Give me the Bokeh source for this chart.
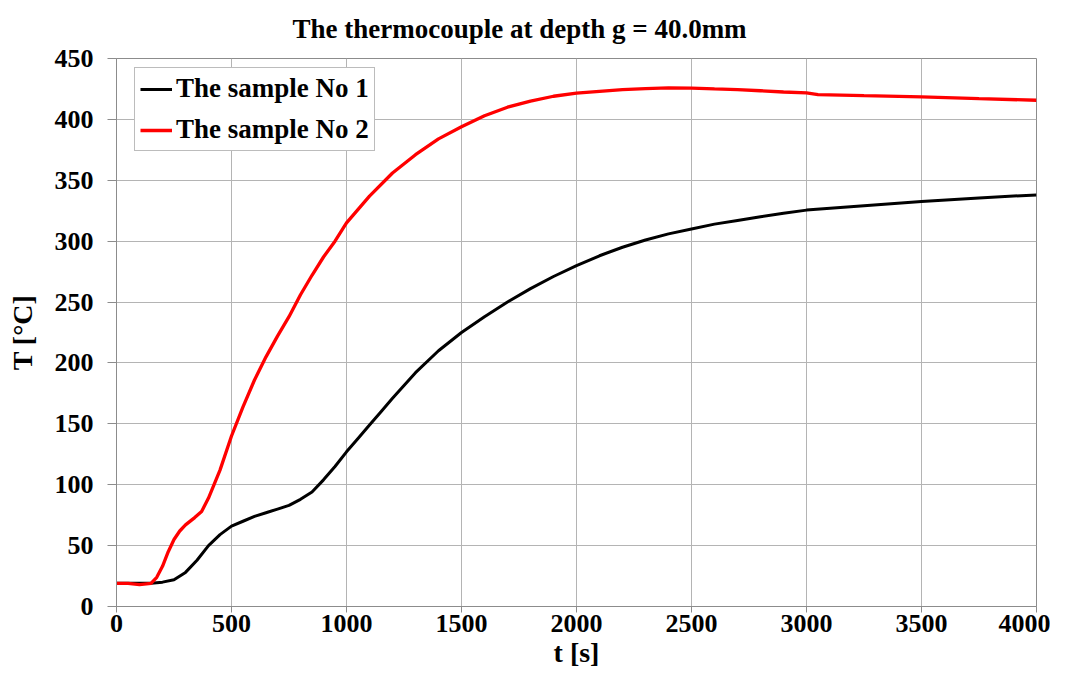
from bokeh.plotting import figure
from bokeh.models import Legend, LegendItem, Title, FixedTicker
from bokeh.embed import file_html
from bokeh.resources import INLINE

# ---- data ----
t_sample1 = [0, 100, 150, 200, 250, 300, 350, 400, 450, 500, 550, 600, 650, 700,
             750, 800, 850, 900, 950, 1000, 1050, 1100, 1150, 1200, 1300, 1400,
             1500, 1600, 1700, 1800, 1900, 2000, 2100, 2200, 2300, 2400, 2500,
             2600, 2700, 2800, 2900, 3000, 3250, 3500, 3750, 4000]
T_sample1 = [19, 19, 19, 20, 22, 28, 38, 50, 59, 66, 70, 74, 77, 80,
             83, 88, 94, 104, 115, 127, 138, 149, 160, 171, 192, 210,
             225, 238, 250, 261, 271, 280, 288, 295, 301, 306, 310,
             314, 317, 320, 323, 325.5, 329, 332.5, 335.5, 338]

t_sample2 = [0, 50, 100, 150, 175, 200, 225, 250, 275, 300, 340, 370, 400, 450,
             500, 550, 600, 650, 700, 750, 800, 850, 900, 950, 1000, 1100, 1200,
             1300, 1400, 1500, 1600, 1700, 1800, 1900, 2000, 2100, 2200, 2300,
             2400, 2500, 2600, 2700, 2800, 2900, 3000, 3050, 3250, 3500, 3750, 4000]
T_sample2 = [19, 19, 18, 19, 24, 33, 45, 55, 62, 67, 73, 78, 89, 112,
             140, 164, 186, 205, 222, 238, 256, 272, 287, 300, 315, 337, 356,
             371, 384, 394, 403, 410, 415, 419, 421.5, 423, 424.5, 425.3,
             425.8, 425.6, 425, 424.5, 423.5, 422.5, 421.7, 420.4, 419.5, 418.5, 417, 415.7]

series_names = ["The sample No 1", "The sample No 2"]
x_ticks = [0, 500, 1000, 1500, 2000, 2500, 3000, 3500, 4000]
y_ticks = [0, 50, 100, 150, 200, 250, 300, 350, 400, 450]
title_text = "The thermocouple at depth   g = 40.0mm"

FONT = "Liberation Serif"
GRID = "#b4b4b4"
AXC = "#8c8c8c"

W, H = 1050, 677
LEFT, RIGHT, TOP, BOTTOM = 116, 14, 58, 71

p = figure(width=W, height=H, output_backend="svg", toolbar_location=None,
           x_range=(0, 4000), y_range=(0, 450),
           min_border_left=LEFT, min_border_right=RIGHT, min_border_top=TOP,
           min_border_bottom=BOTTOM, background_fill_color="white",
           border_fill_color="white")

title = Title(text=title_text, align="left", offset=176, vertical_align="top",
              standoff=26, text_font=FONT, text_font_style="bold",
              text_font_size="27px", text_color="black")
p.add_layout(title, "above")

p.outline_line_color = AXC
p.outline_line_width = 1

for ax in (p.xaxis[0], p.yaxis[0]):
    ax.axis_line_color = AXC
    ax.major_tick_line_color = AXC
    ax.minor_tick_line_color = None
    ax.major_tick_in = 0
    ax.major_label_text_font = FONT
    ax.major_label_text_font_style = "bold"
    ax.major_label_text_font_size = "26px"
    ax.major_label_text_color = "black"
    ax.axis_label_text_font = FONT
    ax.axis_label_text_font_style = "bold"
    ax.axis_label_text_font_size = "28px"
    ax.axis_label_text_color = "black"

p.xaxis.ticker = FixedTicker(ticks=x_ticks)
p.yaxis.ticker = FixedTicker(ticks=y_ticks)
p.xaxis.axis_label = "t [s]"
p.yaxis.axis_label = "T [°C]"
p.xaxis.major_tick_out = 6
p.xaxis.major_label_standoff = 2
p.xaxis.axis_label_standoff = 2
p.yaxis.major_tick_out = 9
p.yaxis.major_label_standoff = 14
p.yaxis.axis_label_standoff = 14

p.xgrid.grid_line_color = GRID
p.ygrid.grid_line_color = GRID
p.xgrid.grid_line_width = 1
p.ygrid.grid_line_width = 1

r1 = p.line(t_sample1, T_sample1, line_color="black", line_width=3)
r2 = p.line(t_sample2, T_sample2, line_color="#ff0000", line_width=3.3)

frame_h = H - TOP - BOTTOM
legend = Legend(items=[LegendItem(label=series_names[0], renderers=[r1]),
                       LegendItem(label=series_names[1], renderers=[r2])],
                location=(18, frame_h - 93), margin=0, padding=5, spacing=10,
                glyph_width=32, label_standoff=4,
                label_text_font=FONT, label_text_font_style="bold",
                label_text_font_size="27px", label_text_color="black",
                border_line_color="#7a7a7a", border_line_width=1,
                background_fill_color="white", background_fill_alpha=1.0)
p.add_layout(legend)

open("out.html", "w").write(file_html(p, INLINE))
